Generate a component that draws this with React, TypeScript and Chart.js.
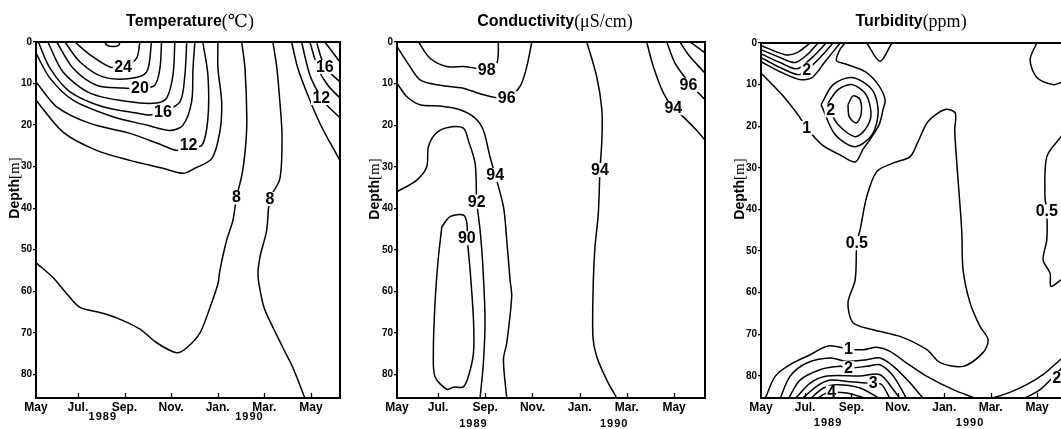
import React, { useEffect, useRef } from "react";
import { Chart, registerables } from "chart.js";

Chart.register(...registerables);

// x: months since 1 May 1989, y: depth (m)
type Pt = [number, number];
type Lbl = [string, number, number];

const monthTicks = [0, 2, 4, 6, 8, 10, 12];
const monthLabels = ["May", "Jul.", "Sep.", "Nov.", "Jan.", "Mar.", "May"];
const depthTicks = [0, 10, 20, 30, 40, 50, 60, 70, 80];
const yearLabels = ["1989", "1990"];

// ---------- Temperature (°C) isotherms ----------
const temp26: Pt[] = [[3.16, 0], [3.25, 0.8], [3.5, 1.1], [3.75, 0.8], [3.8, 0]];
const temp24: Pt[] = [[1.87, 0], [2.52, 3.1], [3.37, 6.0], [4.02, 6.0], [4.52, 3.9], [4.66, 0]];
const temp22: Pt[] = [[1.44, 0], [2.09, 4.8], [3.07, 8.4], [4.23, 8.8], [4.95, 7.2], [5.16, 0]];
const temp20: Pt[] = [[1.09, 0], [1.79, 6.3], [2.8, 10.4], [3.93, 11.1], [4.66, 11.2], [5.3, 10.4], [5.52, 6.3], [5.59, 0]];
const temp18: Pt[] = [[0.71, 0], [1.36, 7.2], [2.52, 12.3], [4.23, 14.4], [5.38, 14.7], [5.81, 13.5], [6.08, 8.0], [6.16, 0]];
const temp16: Pt[] = [[0.3, 0], [0.8, 6.3], [1.66, 12.0], [3.07, 15.6], [4.52, 17.1], [5.09, 17.6], [5.65, 16.8], [6.38, 14.4], [6.59, 8.0], [6.67, 0]];
const temp14: Pt[] = [[0.2, 2.7], [0.8, 8.7], [1.79, 14.0], [3.5, 18.0], [4.95, 20.0], [5.95, 21.3], [6.51, 20.0], [6.88, 14.4], [6.94, 6.3], [7.02, 0]];
const temp12: Pt[] = [[0.2, 9.6], [1.09, 15.6], [2.52, 19.6], [4.23, 22.0], [5.65, 24.9], [6.24, 26.1], [6.75, 25.2], [7.32, 24.9], [7.58, 18.4], [7.58, 8.0], [7.36, 0]];
const temp10: Pt[] = [[0.2, 14.0], [1.36, 21.7], [2.8, 26.1], [4.23, 28.5], [5.65, 30.4], [6.51, 31.6], [7.02, 30.4], [7.75, 28.0], [8.09, 21.7], [8.17, 14.5], [8.01, 6.3], [8.01, 0]];
const temp8a: Pt[] = [[0.2, 53.1], [0.93, 56.7], [1.52, 60.6], [2.09, 63.9], [2.94, 65.1], [3.66, 66.4], [4.66, 69.1], [5.38, 72.4], [6.24, 74.8], [6.67, 73.6], [7.24, 70.0], [7.67, 63.9], [8.01, 58.2], [8.09, 55.1], [8.38, 47.8], [8.65, 43.0], [8.81, 37.4], [9.05, 31.7], [9.2, 24.9], [9.25, 18.4], [9.17, 6.3], [9.03, 0]];
const temp8b: Pt[] = [[10.37, 0], [10.54, 6.3], [10.67, 14.5], [10.76, 22.5], [10.67, 32.9], [10.24, 37.8], [10.1, 45.4], [9.81, 51.9], [9.73, 56.3], [9.94, 63.0], [10.1, 65.5], [10.8, 73.6], [11.23, 78.4], [11.74, 85.7]];
const temp10r: Pt[] = [[11.17, 0], [11.44, 6.3], [11.87, 12.8], [12.38, 19.5], [12.8, 24.0], [13.25, 28.5]];
const temp12r: Pt[] = [[11.6, 0], [11.96, 8.0], [12.45, 13.5], [12.75, 15.6], [13.25, 18.2]];
const temp14r: Pt[] = [[11.96, 0], [12.3, 6.3], [12.73, 10.4], [13.25, 13.5]];
const temp16r: Pt[] = [[12.24, 0], [12.6, 6.0], [13.25, 9.6]];
const temp18r: Pt[] = [[12.6, 0], [13.25, 4.8]];
const tempLabels: Lbl[] = [["24", 3.94, 6.0], ["20", 4.66, 11.1], ["16", 5.65, 16.8], ["12", 6.75, 24.9], ["8", 8.81, 37.4], ["8", 10.24, 37.8], ["16", 12.6, 6.0], ["12", 12.45, 13.5]];

// ---------- Conductivity (µS/cm) ----------
const cond98: Pt[] = [[1.17, 0], [1.66, 3.9], [2.37, 5.9], [3.07, 5.9], [3.57, 6.3], [4.06, 6.7], [4.49, 5.1], [4.56, 0]];
const cond96: Pt[] = [[0.26, 1.1], [0.81, 5.9], [1.24, 9.1], [1.94, 10.3], [3.07, 11.1], [3.92, 12.7], [4.91, 13.5], [5.47, 10.7], [5.76, 5.9], [5.97, 0]];
const cond94a: Pt[] = [[0.26, 9.9], [0.67, 13.1], [1.24, 15.1], [2.08, 15.4], [2.93, 16.3], [3.57, 18.3], [3.92, 21.2], [4.2, 27.6], [4.42, 32.0], [4.77, 39.6], [4.91, 47.6], [5.05, 57.2], [5.12, 61.2], [4.91, 72.4], [4.77, 76.4], [4.91, 85.6]];
const cond92: Pt[] = [[0.26, 36.0], [1.1, 33.2], [1.52, 30.0], [1.59, 25.2], [1.9, 22.0], [2.37, 20.6], [3.07, 20.7], [3.28, 23.6], [3.57, 29.2], [3.64, 38.4], [3.78, 45.2], [3.89, 53.2], [3.99, 66.8], [3.92, 77.2], [3.78, 85.6]];
const cond90: Pt[] = [[2.16, 44.4], [2.51, 42.0], [3.07, 41.6], [3.22, 43.5], [3.25, 48.0], [3.36, 55.0], [3.5, 66.8], [3.5, 74.8], [3.28, 80.5], [3.07, 82.9], [2.65, 83.0], [2.37, 83.5], [1.87, 80.5], [1.8, 74.8], [1.87, 62.8], [2.01, 52.0], [2.16, 44.4]];
const cond94m: Pt[] = [[8.3, 0], [8.72, 8.3], [8.94, 16.3], [8.94, 23.6], [8.86, 30.8], [8.79, 41.2], [8.65, 49.2], [8.58, 57.2], [8.56, 70.8], [8.72, 75.6], [9.15, 81.3], [9.57, 85.6]];
const cond94r: Pt[] = [[10.84, 0], [11.12, 5.9], [11.55, 12.3], [11.97, 15.9], [12.39, 18.0], [13.0, 21.5], [13.31, 23.6]];
const cond96r: Pt[] = [[11.69, 0], [12.04, 5.1], [12.54, 9.1], [12.8, 10.8], [13.31, 13.9]];
const cond98r: Pt[] = [[12.25, 0], [12.6, 3.0], [13.31, 7.5]];
const cond100r: Pt[] = [[12.68, 0], [13.31, 2.6]];
const condLabels: Lbl[] = [["98", 4.06, 6.7], ["96", 4.91, 13.5], ["94", 4.42, 32.0], ["92", 3.64, 38.4], ["90", 3.22, 47.2], ["94", 8.86, 30.8], ["94", 11.97, 15.9], ["96", 12.61, 10.3]];

// ---------- Turbidity (ppm) ----------
const turbV5: Pt[] = [[0.1, 0.6], [1.14, 2.8], [1.66, 2.3], [2.22, 0]];
const turbV4: Pt[] = [[0.1, 1.6], [0.92, 3.5], [1.57, 4.7], [2.09, 2.8], [2.56, 0]];
const turbV3: Pt[] = [[0.1, 2.6], [0.92, 4.7], [1.66, 6.2], [2.3, 3.5], [2.91, 0]];
const turbV2: Pt[] = [[0.1, 3.5], [0.92, 5.9], [1.7, 7.6], [2.04, 6.7], [2.65, 3.5], [3.21, 0]];
const turbV1: Pt[] = [[0.1, 4.5], [0.92, 6.9], [1.78, 8.8], [2.3, 8.3], [2.86, 4.5], [3.51, 0]];
const turb1a: Pt[] = [[0.1, 7.2], [1.0, 12.4], [1.7, 17.3], [2.07, 20.4], [2.72, 24.4], [3.51, 26.9], [4.16, 28.6], [4.5, 25.5], [4.8, 23.2], [5.2, 19.5], [5.36, 16.0], [5.45, 13.6], [5.15, 10.0], [4.59, 6.9], [3.72, 5.0], [3.35, 4.2], [3.5, 1.6], [3.72, 0]];
const turbB15: Pt[] = [[2.69, 14.8], [3.21, 10.0], [4.03, 8.3], [4.89, 11.2], [5.15, 16.5], [4.89, 22.0], [4.16, 24.9], [3.29, 22.0], [2.69, 14.8]];
const turbB2: Pt[] = [[2.95, 14.8], [3.42, 11.2], [4.03, 10.0], [4.63, 12.4], [4.84, 17.3], [4.59, 20.8], [4.16, 22.5], [3.42, 19.6], [2.95, 14.8]];
const turbB3: Pt[] = [[3.85, 14.8], [4.07, 12.7], [4.37, 13.6], [4.41, 17.3], [4.2, 19.2], [3.9, 17.7], [3.85, 14.8]];
const turbDip: Pt[] = [[4.66, 0], [5.23, 4.4], [5.74, 0]];
const turb05a: Pt[] = [[6.87, 23.7], [7.31, 18.8], [8.03, 16.0], [8.47, 16.8], [8.45, 21.0], [8.54, 28.8], [8.75, 44.9], [8.81, 54.5], [9.11, 62.4], [9.54, 68.1], [9.89, 71.3], [9.67, 74.4], [8.81, 77.7], [7.82, 76.8], [7.25, 73.7], [6.09, 70.5], [4.93, 68.9], [4.07, 67.2], [3.85, 62.4], [4.16, 56.9], [4.23, 48.1], [4.37, 44.9], [4.66, 36.9], [5.09, 30.9], [5.81, 28.8], [6.53, 27.3], [6.87, 23.7]];
const turb05b: Pt[] = [[13.29, 20.5], [13.03, 22.5], [12.42, 27.3], [12.34, 36.9], [12.42, 40.5], [12.42, 47.3], [12.26, 52.1], [12.56, 55.3], [12.6, 58.5], [13.03, 56.9], [13.29, 56.0]];
const turb05c: Pt[] = [[11.99, 0], [11.7, 4.0], [11.99, 8.3], [12.69, 10.0], [13.03, 9.5], [13.29, 9.0]];
const turbA1: Pt[] = [[0.28, 85.5], [0.71, 80.1], [1.35, 77.3], [2.22, 74.9], [3.0, 72.8], [3.87, 73.5], [4.51, 73.7], [5.09, 73.1], [5.66, 74.1], [6.38, 76.9], [7.25, 80.1], [8.39, 83.3], [9.4, 85.5]];
const turbA15: Pt[] = [[0.92, 85.5], [1.35, 80.1], [2.07, 76.9], [3.08, 75.7], [3.8, 76.5], [4.66, 76.1], [5.23, 75.7], [5.81, 77.7], [6.53, 81.7], [7.1, 85.5]];
const turbA2: Pt[] = [[1.28, 85.5], [1.78, 81.0], [2.65, 78.5], [3.51, 77.7], [3.87, 78.1], [4.66, 77.7], [5.23, 77.3], [5.81, 80.1], [6.38, 85.5]];
const turbA25: Pt[] = [[1.57, 85.5], [2.22, 81.7], [2.94, 80.0], [4.37, 80.0], [5.23, 79.7], [5.81, 83.3], [6.09, 85.5]];
const turbA3: Pt[] = [[1.86, 85.5], [2.5, 82.5], [3.08, 81.0], [3.94, 81.4], [4.66, 81.7], [4.94, 81.7], [5.31, 82.1], [5.66, 85.5]];
const turbA35: Pt[] = [[2.22, 85.5], [2.79, 82.9], [3.37, 82.1], [4.37, 82.9], [5.23, 85.5]];
const turbA4: Pt[] = [[2.5, 85.5], [2.94, 84.1], [3.8, 84.1], [4.66, 85.5]];
const turbR1: Pt[] = [[9.97, 85.5], [10.8, 84.0], [11.55, 82.1], [12.3, 79.5], [13.0, 76.1], [13.29, 75.0]];
const turbR2: Pt[] = [[11.41, 85.5], [12.13, 83.3], [12.99, 78.5], [13.29, 77.0]];
const turbLabels: Lbl[] = [["2", 2.07, 6.4], ["1", 2.07, 20.4], ["2", 3.1, 16.2], ["0.5", 4.23, 48.1], ["0.5", 12.42, 40.5], ["1", 3.87, 73.5], ["2", 3.87, 78.1], ["3", 4.94, 81.7], ["4", 3.15, 84.0], ["2", 12.85, 80.5]];

const SANS = "'Liberation Sans', Arial, sans-serif";
const SERIF = "'Liberation Serif', 'DejaVu Serif', serif";
const CANVAS_H = 429;

type Panel = {
  key: string; left: number; width: number; padL: number; padR: number; top: number; bottom: number;
  xMin: number; xMax: number; yMax: number; title: string; unit: string; titleX: number;
  ylabX: number; ylabY: number; yearY: number; yearX: number[]; lines: Pt[][]; labels: Lbl[];
};

const panels: Panel[] = [
  {
    key: "temp", left: 0, width: 352, padL: 12, padR: 12, top: 42, bottom: 398,
    xMin: 0.2, xMax: 13.25, yMax: 85.7, title: "Temperature", unit: "(℃)", titleX: 190,
    ylabX: 15, ylabY: 188, yearY: 417, yearX: [3.07, 9.36],
    lines: [temp26, temp24, temp22, temp20, temp18, temp16, temp14, temp12, temp10, temp8a, temp8b, temp10r, temp12r, temp14r, temp16r, temp18r],
    labels: tempLabels,
  },
  {
    key: "cond", left: 352, width: 365, padL: 21, padR: 12, top: 42, bottom: 398,
    xMin: 0.26, xMax: 13.31, yMax: 85.6, title: "Conductivity", unit: "(μS/cm)", titleX: 203,
    ylabX: 23, ylabY: 189, yearY: 424, yearX: [3.5, 9.46],
    lines: [cond98, cond96, cond94a, cond92, cond90, cond94m, cond94r, cond96r, cond98r, cond100r],
    labels: condLabels,
  },
  {
    key: "turb", left: 717, width: 400, padL: 20, padR: 50, top: 43, bottom: 398,
    xMin: 0.1, xMax: 13.29, yMax: 85.3, title: "Turbidity", unit: "(ppm)", titleX: 194,
    ylabX: 23, ylabY: 189, yearY: 423, yearX: [2.99, 9.11],
    lines: [turbV5, turbV4, turbV3, turbV2, turbV1, turb1a, turbB15, turbB2, turbB3, turbDip, turb05a, turb05b, turb05c, turbA1, turbA15, turbA2, turbA25, turbA3, turbA35, turbA4, turbR1, turbR2],
    labels: turbLabels,
  },
];

function makeDecor(p: Panel) {
  return {
    id: "decor_" + p.key,
    afterDatasetsDraw(chart: any) {
      const ctx = chart.ctx;
      const xs = chart.scales.x;
      const ys = chart.scales.y;
      ctx.save();
      ctx.font = `bold 16px ${SANS}`;
      ctx.textAlign = "center";
      ctx.textBaseline = "middle";
      for (const [t, x, y] of p.labels) {
        const px = xs.getPixelForValue(x);
        const py = ys.getPixelForValue(y);
        const w = ctx.measureText(t).width;
        ctx.fillStyle = "#fff";
        ctx.fillRect(px - w / 2 - 1.5, py - 7, w + 3, 14);
        ctx.fillStyle = "#000";
        ctx.fillText(t, px, py + 0.5);
      }
      ctx.restore();
    },
    afterDraw(chart: any) {
      const ctx = chart.ctx;
      const a = chart.chartArea;
      const xs = chart.scales.x;
      ctx.save();
      // frame
      ctx.strokeStyle = "#000";
      ctx.lineWidth = 2;
      ctx.strokeRect(a.left, a.top, a.right - a.left, a.bottom - a.top);
      // inner x ticks
      ctx.lineWidth = 1.3;
      for (const v of monthTicks.slice(1)) {
        const px = Math.round(xs.getPixelForValue(v)) + 0.5;
        ctx.beginPath();
        ctx.moveTo(px, a.bottom);
        ctx.lineTo(px, a.bottom - 5);
        ctx.stroke();
      }
      ctx.fillStyle = "#000";
      // title
      ctx.textBaseline = "middle";
      ctx.textAlign = "left";
      const mainFont = `bold 16px ${SANS}`;
      const unitFont = `18px ${SERIF}`;
      ctx.font = mainFont;
      const w1 = ctx.measureText(p.title).width;
      ctx.font = unitFont;
      const w2 = ctx.measureText(p.unit).width;
      const x0 = p.titleX - (w1 + w2) / 2;
      ctx.font = mainFont;
      ctx.fillText(p.title, x0, 22);
      ctx.font = unitFont;
      ctx.fillText(p.unit, x0 + w1, 22);
      // years
      ctx.font = `bold 11px ${SANS}`;
      ctx.textAlign = "center";
      try { (ctx as any).letterSpacing = "1px"; } catch (e) {}
      p.yearX.forEach((v, i) => {
        ctx.fillText(yearLabels[i], xs.getPixelForValue(v), p.yearY);
      });
      try { (ctx as any).letterSpacing = "0px"; } catch (e) {}
      // y label
      ctx.translate(p.ylabX, p.ylabY);
      ctx.rotate(-Math.PI / 2);
      ctx.textAlign = "left";
      const f1 = `bold 14px ${SANS}`;
      const f2 = `15px ${SERIF}`;
      ctx.font = f1;
      const d1 = ctx.measureText("Depth").width;
      ctx.font = f2;
      const d2 = ctx.measureText("[m]").width;
      const s = -(d1 + d2) / 2;
      ctx.font = f1;
      ctx.fillText("Depth", s, 0);
      ctx.font = f2;
      ctx.fillText("[m]", s + d1, 0);
      ctx.restore();
    },
  };
}

function PanelChart({ p }: { p: Panel }) {
  const ref = useRef<HTMLCanvasElement | null>(null);
  useEffect(() => {
    if (!ref.current) return;
    const chart = new Chart(ref.current, {
      type: "scatter",
      data: {
        datasets: p.lines.map((pts) => ({
          data: pts.map(([x, y]) => ({ x, y })),
          showLine: true,
          borderColor: "#000",
          borderWidth: 1.5,
          pointRadius: 0,
          tension: 0.3,
          fill: false,
          clip: 1,
        })),
      },
      options: {
        animation: false,
        responsive: false,
        events: [],
        layout: { padding: { left: p.padL, right: p.padR, top: p.top, bottom: 0 } },
        plugins: { legend: { display: false }, tooltip: { enabled: false }, title: { display: false } },
        scales: {
          x: {
            type: "linear",
            position: "bottom",
            min: p.xMin,
            max: p.xMax,
            afterFit: (s: any) => { s.height = CANVAS_H - p.bottom; },
            afterBuildTicks: (s: any) => { s.ticks = monthTicks.map((v) => ({ value: Math.max(v, p.xMin) })); },
            grid: { display: false, drawTicks: false },
            border: { display: false },
            ticks: {
              autoSkip: false, maxRotation: 0, minRotation: 0, padding: 2, color: "#000",
              font: { family: SANS, size: 12, weight: "bold" },
              callback: (_v: any, i: number) => monthLabels[i],
            },
          },
          y: {
            type: "linear",
            reverse: true,
            min: 0,
            max: p.yMax,
            afterFit: (s: any) => { s.width = 24; },
            afterBuildTicks: (s: any) => { s.ticks = depthTicks.map((v) => ({ value: v })); },
            grid: { display: true, drawOnChartArea: false, drawTicks: true, tickLength: 3, color: "#000", lineWidth: 1.3 },
            border: { display: false },
            ticks: { padding: 1, color: "#000", font: { family: SANS, size: 10, weight: "bold" } },
          },
        },
      } as any,
      plugins: [makeDecor(p)],
    });
    return () => chart.destroy();
  }, [p]);
  return (
    <canvas
      ref={ref}
      width={p.width}
      height={CANVAS_H}
      style={{ position: "absolute", left: p.left, top: 0, width: p.width, height: CANVAS_H }}
    />
  );
}

export default function App() {
  return (
    <div style={{ position: "fixed", left: 0, top: 0, width: 1061, height: 429, overflow: "hidden", background: "#fff" }}>
      {panels.map((p) => (
        <PanelChart key={p.key} p={p} />
      ))}
    </div>
  );
}
